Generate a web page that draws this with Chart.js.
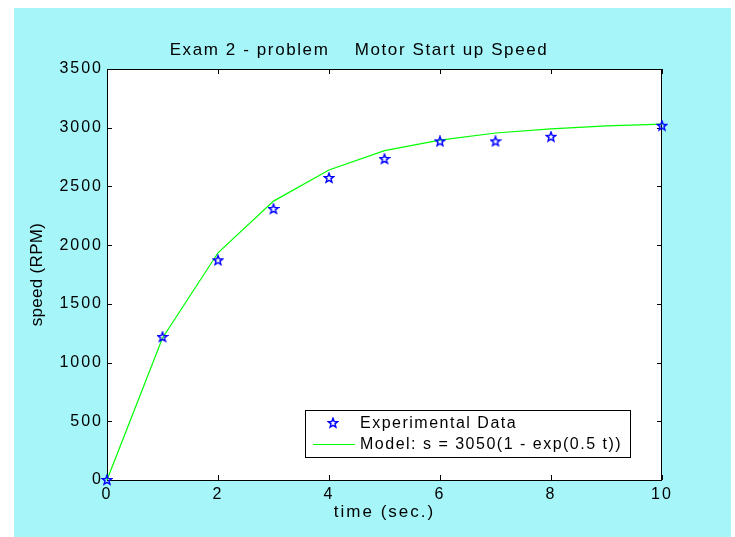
<!DOCTYPE html>
<html><head><meta charset="utf-8">
<script src="https://cdn.jsdelivr.net/npm/chart.js@4"></script>
<style>html,body{margin:0;padding:0;background:#fff;}canvas{display:block;}</style>
</head><body>
<canvas id="c" width="735" height="537"></canvas>
<script>
// ---- data ----
const expTime = [0, 1, 2, 3, 4, 5, 6, 7, 8, 10];
const expSpeed = [0, 1218, 1871, 2308, 2572, 2734, 2884, 2884, 2923, 3017];
const modelTime = [0, 1, 2, 3, 4, 5, 6, 7, 8, 9, 10];
const modelSpeed = [0, 1210, 1935, 2375, 2640, 2805, 2895, 2955, 2990, 3015, 3030];
const xTicks = [0, 2, 4, 6, 8, 10];
const yTicks = [0, 500, 1000, 1500, 2000, 2500, 3000, 3500];
const titleText = 'Exam 2 - problem    Motor Start up Speed';
const xLabel = 'time (sec.)';
const yLabel = 'speed (RPM)';
const seriesLabels = ['Experimental Data', 'Model: s = 3050(1 - exp(0.5 t))'];

// ---- styling ----
const FONT = "'Liberation Sans', Arial, Helvetica, sans-serif";
const LS_TITLE = '1.6px';
const LS_TICKS = '2px';
const LS_XTITLE = '2px';
const LS_YTITLE = '0.3px';
const LS_LEGEND = '1.5px';
const CYAN = '#a6f5f9';

function makeStar(color) {
  const cv = document.createElement('canvas');
  cv.width = 12; cv.height = 12;
  const g = cv.getContext('2d');
  const cx = 6, cy = 6.2, R = 5, r = R * 0.42;
  g.beginPath();
  for (let i = 0; i < 10; i++) {
    const a = -Math.PI / 2 + i * Math.PI / 5;
    const rad = i % 2 === 0 ? R : r;
    const px = cx + rad * Math.cos(a), py = cy + rad * Math.sin(a);
    if (i === 0) g.moveTo(px, py); else g.lineTo(px, py);
  }
  g.closePath();
  g.strokeStyle = color; g.lineWidth = 1.4;
  g.lineJoin = 'miter';
  g.stroke();
  return cv;
}
const starImg = makeStar('#0000ff');

const dataExp = expTime.map((t, i) => ({ x: t, y: expSpeed[i] }));
const dataModel = modelTime.map((t, i) => ({ x: t, y: modelSpeed[i] }));

function withSpacing(obj, name, ls) {
  if (obj['_ls_' + name]) return;
  const orig = obj[name];
  obj[name] = function () {
    const ctx = this.ctx;
    const prev = ctx.letterSpacing;
    ctx.letterSpacing = ls;
    const r = orig.apply(this, arguments);
    ctx.letterSpacing = prev;
    return r;
  };
  obj['_ls_' + name] = true;
}

const decor = {
  id: 'decor',
  beforeLayout(c) { c.ctx.letterSpacing = LS_TITLE; },
  beforeDraw(c) {
    const ctx = c.ctx;
    ctx.letterSpacing = LS_TITLE;
    withSpacing(c.scales.x, 'drawLabels', LS_TICKS);
    withSpacing(c.scales.y, 'drawLabels', LS_TICKS);
    withSpacing(c.scales.x, 'drawTitle', LS_XTITLE);
    withSpacing(c.scales.y, 'drawTitle', LS_YTITLE);
    ctx.save();
    ctx.fillStyle = '#ffffff';
    ctx.fillRect(0, 0, c.width, c.height);
    ctx.fillStyle = CYAN;
    ctx.fillRect(14, 8, 717, c.height - 8);
    const a = c.chartArea;
    ctx.fillStyle = '#ffffff';
    ctx.fillRect(a.left, a.top, a.right - a.left, a.bottom - a.top);
    ctx.restore();
  },
  beforeDatasetsDraw(c) {
    const ctx = c.ctx, a = c.chartArea;
    ctx.save();
    ctx.strokeStyle = '#000';
    ctx.lineWidth = 1;
    ctx.strokeRect(a.left + 0.5, a.top + 0.5, a.right - a.left - 1, a.bottom - a.top);
    const tl = 5;
    ctx.beginPath();
    c.scales.x.ticks.forEach((t, i) => {
      const px = Math.round(c.scales.x.getPixelForTick(i)) + 0.5;
      ctx.moveTo(px, a.bottom); ctx.lineTo(px, a.bottom - tl);
      ctx.moveTo(px, a.top); ctx.lineTo(px, a.top + tl);
    });
    c.scales.y.ticks.forEach((t, i) => {
      const py = Math.round(c.scales.y.getPixelForTick(i)) + 0.5;
      ctx.moveTo(a.left, py); ctx.lineTo(a.left + tl, py);
      ctx.moveTo(a.right, py); ctx.lineTo(a.right - tl, py);
    });
    ctx.stroke();
    ctx.restore();
  },
  afterDraw(c) {
    const ctx = c.ctx, a = c.chartArea;
    const ds = c.data.datasets;
    ctx.save();
    ctx.letterSpacing = LS_LEGEND;
    const bx = a.left + 198, by = a.bottom - 70, bw = 325, bh = 47;
    ctx.fillStyle = '#fff';
    ctx.fillRect(bx, by, bw, bh);
    ctx.strokeStyle = '#000';
    ctx.lineWidth = 1;
    ctx.strokeRect(bx + 0.5, by + 0.5, bw, bh);
    const y1 = by + 13, y2 = by + 34;
    ctx.drawImage(starImg, bx + 28 - 6, y1 - 6);
    ctx.strokeStyle = ds[1].borderColor;
    ctx.lineWidth = 1;
    ctx.beginPath();
    ctx.moveTo(bx + 8, y2 + 0.5); ctx.lineTo(bx + 50, y2 + 0.5);
    ctx.stroke();
    ctx.fillStyle = '#000';
    ctx.font = '16px ' + FONT;
    ctx.textAlign = 'left';
    ctx.textBaseline = 'middle';
    ctx.fillText(ds[0].label, bx + 55, y1 + 1);
    ctx.fillText(ds[1].label, bx + 55, y2 + 1);
    ctx.restore();
  }
};

new Chart(document.getElementById('c'), {
  type: 'scatter',
  data: {
    datasets: [
      {
        label: seriesLabels[0],
        data: dataExp,
        pointStyle: starImg,
        pointRadius: 5,
        showLine: false,
        clip: false,
        order: 0
      },
      {
        label: seriesLabels[1],
        data: dataModel,
        showLine: true,
        borderColor: '#00ff00',
        borderWidth: 1.2,
        pointRadius: 0,
        fill: false,
        tension: 0,
        clip: false,
        order: 1
      }
    ]
  },
  options: {
    responsive: false,
    animation: false,
    devicePixelRatio: 1,
    font: { family: FONT, size: 16 },
    color: '#000',
    layout: { padding: { left: 0, right: 17, top: 8, bottom: 0 } },
    plugins: {
      legend: { display: false },
      tooltip: { enabled: false },
      title: {
        display: true,
        text: titleText,
        color: '#000',
        font: { family: FONT, size: 17, weight: 'normal' },
        padding: { top: 31.8, bottom: 8.8 }
      }
    },
    scales: {
      x: {
        type: 'linear',
        min: 0, max: 10,
        afterBuildTicks: s => { s.ticks = xTicks.map(v => ({ value: v })); },
        afterFit: s => { s.height = 57; },
        grid: { display: false, drawTicks: false },
        border: { display: false },
        ticks: { color: '#000', padding: 5, font: { family: FONT, size: 16 }, maxRotation: 0, callback: v => String(v) },
        title: { display: true, text: xLabel, color: '#000', font: { family: FONT, size: 17 }, padding: { top: 0, bottom: 14.8 } }
      },
      y: {
        type: 'linear',
        min: 0, max: 3500,
        afterBuildTicks: s => { s.ticks = yTicks.map(v => ({ value: v })); },
        afterFit: s => { s.width = 107; },
        grid: { display: false, drawTicks: false },
        border: { display: false },
        ticks: { color: '#000', padding: 4, font: { family: FONT, size: 16 }, callback: v => String(v) },
        title: { display: true, text: yLabel, color: '#000', font: { family: FONT, size: 17 }, padding: { top: 27.3, bottom: 0 } }
      },
      yR: {
        type: 'linear',
        position: 'right',
        display: true,
        afterFit: s => { s.width = 56; },
        grid: { display: false, drawTicks: false },
        border: { display: false },
        ticks: { display: false },
        title: { display: false }
      }
    }
  },
  plugins: [decor]
});
</script>
</body></html>
